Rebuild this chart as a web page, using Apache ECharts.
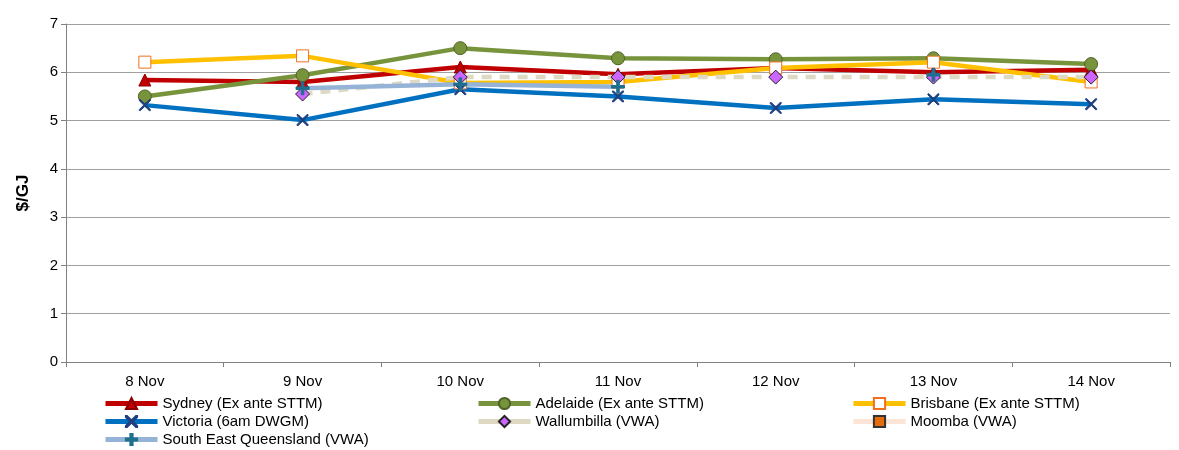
<!DOCTYPE html>
<html><head><meta charset="utf-8">
<script src="https://cdn.jsdelivr.net/npm/echarts@6/dist/echarts.min.js"></script>
<style>html,body{margin:0;padding:0;background:#fff}#c{width:1179px;height:450px}</style>
</head><body><div id="c"></div>
<script>
const categories=['8 Nov','9 Nov','10 Nov','11 Nov','12 Nov','13 Nov','14 Nov'];
const sydney=[5.84,5.80,6.11,5.96,6.09,6.0,6.05];
const adelaide=[5.5,5.94,6.5,6.29,6.27,6.29,6.17];
const brisbane=[6.21,6.34,5.78,5.80,6.09,6.21,5.80];
const victoria=[5.32,5.01,5.65,5.5,5.26,5.44,5.34];
const wallumbilla=[null,5.55,5.9,5.9,5.9,5.9,5.9];
const moomba=[null,null,null,null,null,null,null];
const seq=[null,5.67,5.75,5.7,null,5.95,null];
const F='Liberation Sans, Arial, sans-serif';
function s(name,data,color,w,sym,size,mfill,mborder,dash){
  return {name,type:'line',data,connectNulls:false,symbol:sym,symbolSize:size,showAllSymbol:true,
    lineStyle:{color,width:w,type:dash||'solid'},
    itemStyle:{color:mfill,borderColor:mborder,borderWidth:1},
    emphasis:{disabled:true}};
}
const plus='path://M4,0H6V4H10V6H6V10H4V6H0V4H4Z';
const series=[
 s('Sydney (Ex ante STTM)',sydney,'#C00000',4.5,'triangle',12,'#C00000','#8B0000'),
 s('Adelaide (Ex ante STTM)',adelaide,'#77933C',4.5,'circle',13,'#77933C','#4F6228'),
 s('Brisbane (Ex ante STTM)',brisbane,'#FFC000',4.5,'rect',12,'#fff','#F07020'),
 s('Victoria (6am DWGM)',victoria,'#0070C0',4.5,'path://M0,0L1,0L5,4L9,0L10,0L10,1L6,5L10,9L10,10L9,10L5,6L1,10L0,10L0,9L4,5L0,1Z',11,'#1F3F7F','#1F3F7F'),
 s('Wallumbilla (VWA)',wallumbilla,'#DDD9C3',4.5,'diamond',14,'#CC66FF','#222',[10,8]),
 s('Moomba (VWA)',moomba,'#FCE4D6',4.5,'rect',11,'#E46C0A','#333'),
 s('South East Queensland (VWA)',seq,'#95B3D7',4.5,plus,13,'#1F6F8F','#1F6F8F')
];
const lg=(names,left)=>({data:names,orient:'vertical',left,top:396,itemGap:3,itemWidth:52,itemHeight:14,
  lineStyle:{width:5,type:'solid'},
  textStyle:{fontFamily:F,fontSize:15,color:'#000'},selectedMode:false,padding:0});
const chart=echarts.init(document.getElementById('c'));
chart.setOption({
 animation:false,
 grid:{left:66,right:9,top:24,bottom:88},
 legend:[lg(['Sydney (Ex ante STTM)','Victoria (6am DWGM)','South East Queensland (VWA)'],103),
   lg(['Adelaide (Ex ante STTM)','Wallumbilla (VWA)'],476),
   lg(['Brisbane (Ex ante STTM)','Moomba (VWA)'],851)],
 xAxis:{type:'category',data:categories,boundaryGap:true,
   axisLine:{lineStyle:{color:'#808080'}},axisTick:{show:true,lineStyle:{color:'#808080'}},
   axisLabel:{fontFamily:F,fontSize:15,color:'#000',margin:12}},
 yAxis:{type:'value',min:0,max:7,interval:1,name:'$/GJ',nameLocation:'middle',nameGap:34,
   nameTextStyle:{fontFamily:F,fontSize:17,fontWeight:'bold',color:'#000'},
   axisLine:{show:true,lineStyle:{color:'#808080'}},axisTick:{show:true,lineStyle:{color:'#808080'}},
   splitLine:{lineStyle:{color:'#A0A0A0'}},
   axisLabel:{fontFamily:F,fontSize:15,color:'#000'}},
 series
});
</script></body></html>
